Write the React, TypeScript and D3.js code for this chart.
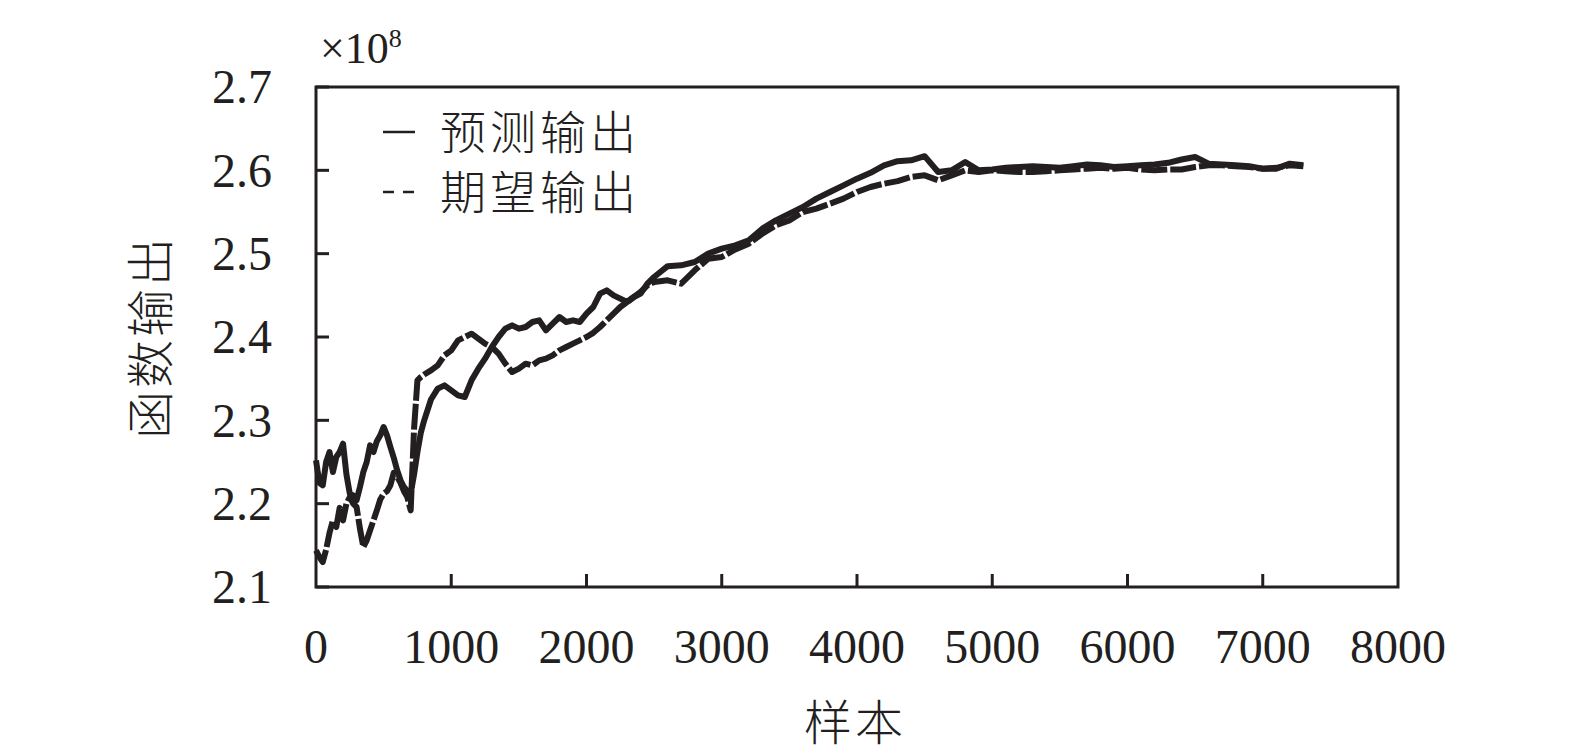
import React from 'react';
import * as d3 from 'd3';

// sample index (x axis)
const samples = [
  0, 25, 50, 75, 100, 125, 150, 175, 200, 225, 250, 275, 300, 325, 350, 375, 400, 425, 450, 475,
  500, 525, 550, 575, 600, 625, 650, 675, 700, 725, 750, 775, 800, 850, 900, 950,
  1000, 1050, 1100, 1150, 1200, 1250, 1300, 1350, 1400, 1450, 1500, 1550, 1600, 1650, 1700, 1750,
  1800, 1850, 1900, 1950, 2000, 2050, 2100, 2150, 2200, 2250, 2300, 2350, 2400, 2450, 2500,
  2600, 2700, 2800, 2900, 3000, 3100, 3200, 3300, 3400, 3500, 3600, 3700, 3800, 3900, 4000,
  4100, 4200, 4300, 4400, 4500, 4600, 4700, 4800, 4900, 5000,
  5100, 5200, 5300, 5400, 5500, 5600, 5700, 5800, 5900, 6000,
  6100, 6200, 6300, 6400, 6500, 6600, 6700, 6800, 6900, 7000,
  7100, 7200, 7300,
];

// 预测输出 (x1e8)
const predicted = [
  2.252, 2.225, 2.222, 2.250, 2.262, 2.238, 2.256, 2.262, 2.272, 2.235, 2.212, 2.210, 2.204, 2.220, 2.238, 2.250, 2.270, 2.262, 2.275, 2.282,
  2.292, 2.282, 2.268, 2.255, 2.240, 2.228, 2.220, 2.215, 2.212, 2.235, 2.262, 2.285, 2.300, 2.325, 2.338, 2.342,
  2.336, 2.330, 2.328, 2.348, 2.362, 2.374, 2.388, 2.400, 2.410, 2.414, 2.410, 2.412, 2.418, 2.420, 2.408, 2.416,
  2.424, 2.418, 2.420, 2.418, 2.428, 2.436, 2.452, 2.456, 2.450, 2.446, 2.442, 2.448, 2.452, 2.464, 2.472,
  2.485, 2.486, 2.490, 2.500, 2.506, 2.510, 2.516, 2.530, 2.540, 2.548, 2.556, 2.566, 2.574, 2.582, 2.590,
  2.597, 2.606, 2.611, 2.612, 2.617, 2.598, 2.600, 2.610, 2.600, 2.601,
  2.603, 2.604, 2.605, 2.604, 2.603, 2.605, 2.607, 2.606, 2.604, 2.605,
  2.606, 2.607, 2.609, 2.613, 2.616, 2.608, 2.607, 2.606, 2.605, 2.602,
  2.602, 2.608, 2.606,
];

// 期望输出 (x1e8)
const expected = [
  2.144, 2.136, 2.130, 2.145, 2.165, 2.180, 2.172, 2.195, 2.180, 2.200, 2.208, 2.200, 2.196, 2.170, 2.148, 2.156, 2.168, 2.180, 2.192, 2.205,
  2.212, 2.215, 2.222, 2.237, 2.232, 2.225, 2.215, 2.208, 2.192, 2.290, 2.348, 2.352, 2.355, 2.360, 2.366, 2.378,
  2.384, 2.396, 2.400, 2.404, 2.398, 2.392, 2.388, 2.380, 2.368, 2.358, 2.362, 2.368, 2.366, 2.372, 2.374, 2.378,
  2.384, 2.388, 2.392, 2.396, 2.400, 2.405, 2.412, 2.420, 2.428, 2.436, 2.442, 2.448, 2.454, 2.462, 2.466,
  2.468, 2.464, 2.480, 2.494, 2.496, 2.505, 2.512, 2.524, 2.534, 2.540, 2.550, 2.554, 2.560, 2.566, 2.574,
  2.580, 2.584, 2.587, 2.592, 2.594, 2.588, 2.594, 2.600, 2.598, 2.600,
  2.599, 2.598, 2.598, 2.599, 2.600, 2.601, 2.602, 2.603, 2.602, 2.603,
  2.601, 2.600, 2.601, 2.601, 2.604, 2.606, 2.606, 2.605, 2.604, 2.602,
  2.603, 2.606, 2.605,
];

const xTicks = [0, 1000, 2000, 3000, 4000, 5000, 6000, 7000, 8000];
const yTicks = [2.1, 2.2, 2.3, 2.4, 2.5, 2.6, 2.7];

const W = 1575;
const H = 756;
const left = 316;
const right = 1398;
const top = 87;
const bottom = 587;
const ink = '#231f20';
const serif = '"Liberation Serif", "Times New Roman", serif';
const cjk = '"Noto Sans CJK SC", sans-serif';

const App: React.FC = () => {
  const x = d3.scaleLinear().domain([0, 8000]).range([left, right]);
  const y = d3.scaleLinear().domain([2.1, 2.7]).range([bottom, top]);

  const line = d3.line<number>()
    .x((_, i) => x(samples[i]))
    .y((d) => y(d));

  return (
    <svg width={W} height={H} style={{ position: 'absolute', left: 0, top: 0, background: '#fff' }}>
      <path d={line(expected) ?? ''} fill="none" stroke={ink} strokeWidth={6} strokeDasharray="26,3" strokeLinejoin="round" />
      <path d={line(predicted) ?? ''} fill="none" stroke={ink} strokeWidth={6} strokeLinejoin="round" />

      <rect x={left} y={top} width={right - left} height={bottom - top} fill="none" stroke={ink} strokeWidth={3} />

      {yTicks.map((t) => (
        <g key={'y' + t}>
          <line x1={left} x2={left + 13} y1={y(t)} y2={y(t)} stroke={ink} strokeWidth={3} />
          <text x={272} y={y(t)} dy="0.34em" textAnchor="end" fontFamily={serif} fontSize={48} fill={ink}>
            {t.toFixed(1)}
          </text>
        </g>
      ))}

      {xTicks.map((t) => (
        <g key={'x' + t}>
          {t > 0 && t < 8000 && (
            <line x1={x(t)} x2={x(t)} y1={bottom} y2={bottom - 13} stroke={ink} strokeWidth={3} />
          )}
          <text x={x(t)} y={663} textAnchor="middle" fontFamily={serif} fontSize={48} fill={ink}>
            {t}
          </text>
        </g>
      ))}

      <text x={320} y={63} fontFamily={serif} fontSize={44} fill={ink}>
        ×10<tspan dy={-16} fontSize={26}>8</tspan>
      </text>

      <text
        transform={`translate(168, ${(top + bottom) / 2}) rotate(-90)`}
        textAnchor="middle"
        fontFamily={cjk}
        fontWeight={300}
        fontSize={48}
        letterSpacing={3}
        fill={ink}
      >
        函数输出
      </text>
      <text x={855} y={740} textAnchor="middle" fontFamily={cjk} fontWeight={300} fontSize={48} letterSpacing={3} fill={ink}>
        样本
      </text>

      <line x1={383} x2={415} y1={132} y2={132} stroke={ink} strokeWidth={2.5} />
      <text x={440} y={132} dy="0.36em" fontFamily={cjk} fontWeight={300} fontSize={46} letterSpacing={4} fill={ink}>
        预测输出
      </text>
      <line x1={383} x2={415} y1={192} y2={192} stroke={ink} strokeWidth={2.5} strokeDasharray="11,9" />
      <text x={440} y={192} dy="0.36em" fontFamily={cjk} fontWeight={300} fontSize={46} letterSpacing={4} fill={ink}>
        期望输出
      </text>
    </svg>
  );
};

export default App;
